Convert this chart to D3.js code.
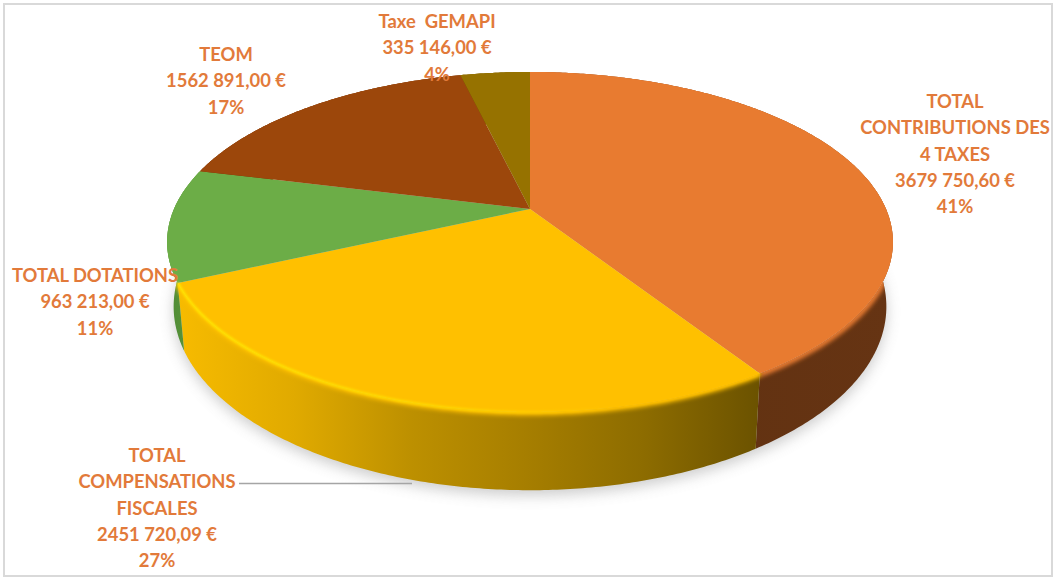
<!DOCTYPE html>
<html lang="fr">
<head>
<meta charset="utf-8">
<title>Recettes fiscales</title>
<script src="https://cdn.jsdelivr.net/npm/d3@7"></script>
<style>
  html, body { margin: 0; padding: 0; background: #fff; }
  svg { display: block; }
  text { font-family: Lato, "Open Sans", sans-serif; font-weight: 700; font-size: 18.4px; fill: #e27a3a; white-space: pre; }
</style>
</head>
<body>
<svg id="chart" width="1054" height="578"></svg>
<script>
// Revenue breakdown, in euros
const categoryLines = [
  ["TOTAL", "CONTRIBUTIONS DES", "4 TAXES"],
  ["TOTAL", "COMPENSATIONS", "FISCALES"],
  ["TOTAL DOTATIONS"],
  ["TEOM"],
  ["Taxe  GEMAPI"]
];
const amounts = [3679750.60, 2451720.09, 963213.00, 1562891.00, 335146.00];

// Palette per slice: top face, wall stops from left to right
const topColors = ["#e87b30", "#ffc000", "#6cad47", "#9c470b", "#967200"];
const wallStops = [
  ["#5f3010", "#663413"],
  ["#f7bb00", "#e0aa00", "#bd9000", "#a67e00", "#8d6c00", "#6b5200"],
  ["#4f8a35", "#5c9a3c"],
  ["#6e3208", "#6e3208"],
  ["#6a5000", "#6a5000"]
];

// Label placement: centre x, first baseline
const labelAnchors = [[955, 108], [157, 462], [95, 282], [226, 61], [437, 28]];
const lineStep = 26.3;
const leader = { x1: 239, x2: 412, y: 483.5 };

const width = 1054, height = 578;
const svg = d3.select("#chart");

const euro = d3.formatLocale({
  decimal: ",", thousands: " ", grouping: [3, 9], currency: ["", " €"]
}).format("$,.2f");
const total = d3.sum(amounts);

// Perspective projection of a unit disc lying flat, viewed from the front
const apex = { x: 530, y: 209 };
const persp = -0.194, scaleV = 163.6, scaleU = 356;
const topFace = a => {
  const u = Math.sin(a), v = -Math.cos(a), d = 1 + persp * v;
  return [apex.x + scaleU * u / d, apex.y + scaleV * v / d];
};
// Lower rim: the same disc, narrower, deeper and shifted down
const rimScaleX = 0.982, rimScaleY = 1.08, rimY = 271;
const bottomFace = a => {
  const [x, y] = topFace(a);
  return [apex.x + (x - apex.x) * rimScaleX, rimY + (y - apex.y) * rimScaleY];
};

const arcs = d3.pie().sort(null).value(d => d)(amounts);
const sample = (a0, a1) => {
  const n = Math.max(2, Math.ceil((a1 - a0) / 0.01));
  return d3.range(n + 1).map(i => a0 + (a1 - a0) * i / n);
};
const rimOf = (face, a0, a1) => sample(a0, a1).map(a => face(a));
const line = d3.line();
const wallPath = d => line(rimOf(topFace, d.startAngle, d.endAngle)
  .concat(rimOf(bottomFace, d.startAngle, d.endAngle).reverse())) + "Z";

const defs = svg.append("defs");
const blur = (id, s) => defs.append("filter").attr("id", id)
  .attr("filterUnits", "userSpaceOnUse")
  .attr("x", 0).attr("y", 0).attr("width", width).attr("height", height)
  .append("feGaussianBlur").attr("stdDeviation", s);
blur("soft-shadow", 7);
blur("soft-edge", 2.2);
blur("soft-glint", 1);

defs.append("clipPath").attr("id", "walls").selectAll("path").data(arcs).join("path").attr("d", wallPath);

const xGrad = d3.scaleLinear().domain([0, 1]);
arcs.forEach((d, i) => {
  const pts = rimOf(topFace, d.startAngle, d.endAngle);
  const g = defs.append("linearGradient").attr("id", `wall-${i}`)
    .attr("gradientUnits", "userSpaceOnUse")
    .attr("x1", d3.min(pts, p => p[0])).attr("x2", d3.max(pts, p => p[0]))
    .attr("y1", 0).attr("y2", 0);
  wallStops[i].forEach((c, k) => g.append("stop")
    .attr("offset", xGrad(k / (wallStops[i].length - 1))).attr("stop-color", c));
});
const glint = defs.append("linearGradient").attr("id", "glint")
  .attr("gradientUnits", "userSpaceOnUse").attr("x1", 178).attr("x2", 620).attr("y1", 0).attr("y2", 0);
glint.append("stop").attr("offset", 0).attr("stop-color", "#ffe800");
glint.append("stop").attr("offset", 0.6).attr("stop-color", "#ffd800");
glint.append("stop").attr("offset", 1).attr("stop-color", "#ffc000");

// Page background and frame
svg.append("rect").attr("width", width).attr("height", height).attr("fill", "#fff");
svg.append("rect").attr("x", 4).attr("y", 4).attr("width", width - 6).attr("height", height - 6)
  .attr("fill", "none").attr("stroke", "#d9d9d9").attr("stroke-width", 2);

// Soft shadow under the disc
svg.append("path")
  .attr("d", line(rimOf(bottomFace, 0, 2 * Math.PI)) + "Z")
  .attr("transform", "translate(0,5)")
  .attr("fill", "#8f8f8f").attr("opacity", 0.45)
  .attr("filter", "url(#soft-shadow)");

// Side walls
svg.append("g").selectAll("path").data(arcs).join("path")
  .attr("d", wallPath)
  .attr("fill", (d, i) => `url(#wall-${i})`);

// Bevelled edge between wall and top face, kept inside the walls
svg.append("g").attr("clip-path", "url(#walls)")
  .selectAll("path").data(arcs).join("path")
  .attr("d", d => line(rimOf(topFace, d.startAngle, d.endAngle)))
  .attr("fill", "none")
  .attr("stroke", (d, i) => topColors[i])
  .attr("stroke-width", 7)
  .attr("filter", "url(#soft-edge)");

// Top faces
svg.append("g").selectAll("path").data(arcs).join("path")
  .attr("d", d => line([[apex.x, apex.y]].concat(rimOf(topFace, d.startAngle, d.endAngle))) + "Z")
  .attr("fill", (d, i) => topColors[i]);

// Highlight on the front edge of the yellow slice
svg.append("path")
  .attr("d", line(rimOf(topFace, arcs[1].startAngle, arcs[1].endAngle)))
  .attr("fill", "none").attr("stroke", "url(#glint)").attr("stroke-width", 2.5)
  .attr("filter", "url(#soft-glint)");

// Leader line for the compensations label
svg.append("line")
  .attr("x1", leader.x1).attr("x2", leader.x2)
  .attr("y1", leader.y).attr("y2", leader.y)
  .attr("stroke", "#a5a5a5").attr("stroke-width", 1.6);

// Labels: name, amount, share of the total
const labels = svg.append("g").attr("text-anchor", "middle").selectAll("text")
  .data(arcs).join("text")
  .attr("transform", (d, i) => `translate(${labelAnchors[i][0]},${labelAnchors[i][1]})`);
labels.selectAll("tspan")
  .data((d, i) => categoryLines[i].concat(euro(d.value), d3.format(".0%")(d.value / total)))
  .join("tspan")
  .attr("x", 0)
  .attr("y", (d, k) => k * lineStep)
  .text(d => d);
</script>
</body>
</html>
